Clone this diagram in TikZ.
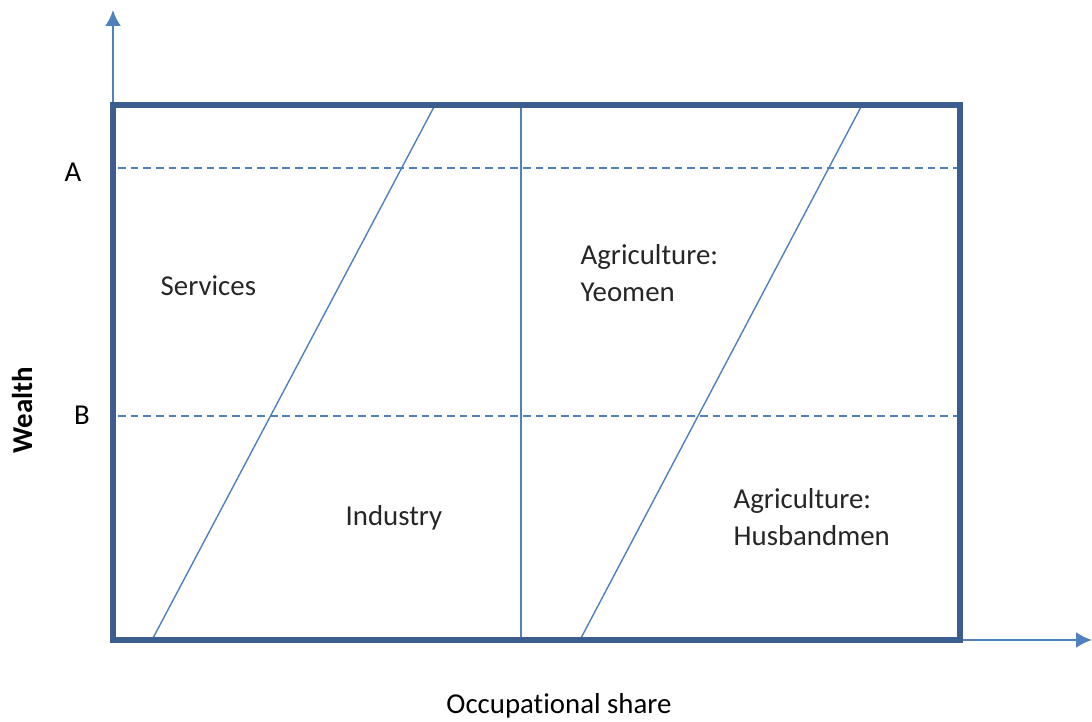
\documentclass[tikz,border=0pt]{standalone}
\usepackage{fontspec}
\setmainfont[Ligatures=NoCommon]{Carlito}
\usetikzlibrary{arrows.meta}
\definecolor{frameblue}{HTML}{3B5E8F}
\definecolor{lineblue}{HTML}{4F81BD}
\begin{document}
\begin{tikzpicture}[x=0.1mm,y=-0.1mm,font=\fontsize{8.2}{10}\selectfont,
  lbl/.style={anchor=west,align=left,text=black!85,inner sep=0pt}]
  \useasboundingbox (0,0) rectangle (1092,722);

  % Axes
  \draw[lineblue,line width=0.7pt,-{Latex[length=4.5pt,width=4.5pt]}] (113,640) -- (113,10);
  \draw[lineblue,line width=0.7pt,-{Latex[length=4.5pt,width=4.5pt]}] (113,640) -- (1092,640);

  % Wealth levels
  \draw[lineblue,dash pattern=on 2.2pt off 1.4pt,line width=0.35pt] (118,168) -- (960,168);
  \draw[lineblue,dash pattern=on 2.2pt off 1.4pt,line width=0.35pt] (118,416) -- (965,416);
  \node[inner sep=0pt] (levA) at (73,172) {A};
  \node[inner sep=0pt] (levB) at (82,415) {B};

  % Sector boundaries
  \draw[lineblue,line width=0.4pt] (152,640) -- (435,105);
  \draw[lineblue,line width=0.4pt] (521,105) -- (521,640);
  \draw[lineblue,line width=0.4pt] (580,640) -- (862,105);

  % Frame
  \draw[frameblue,line width=1.6pt] (113,105) rectangle (960,640);

  % Sectors
  \node[lbl] (serv) at (160,286) {Services};
  \node[lbl] (ind) at (345,518) {Industry};
  \node[lbl] (yeo) at (580,273) {Agriculture:\\[0.5pt]Yeomen};
  \node[lbl] (hus) at (733,517) {Agriculture:\\[0.5pt]Husbandmen};

  % Axis titles
  \node (xlab) at (559,706) {Occupat\kern0pt ional share};
  \node[rotate=90,font=\fontsize{8.2}{10}\selectfont\bfseries] (ylab) at (22,410) {Wealth};
\end{tikzpicture}
\end{document}
